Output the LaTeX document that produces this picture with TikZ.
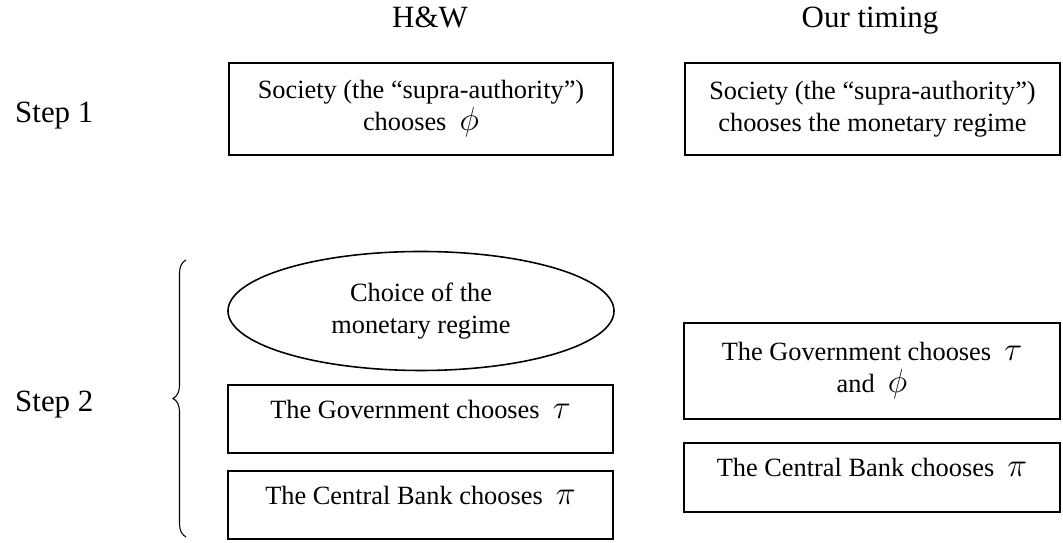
\documentclass[tikz,border=0pt]{standalone}
\usepackage{fontspec}
\usepackage{fix-cm}
\setmainfont{Liberation Serif}
\usetikzlibrary{shapes.geometric,decorations.pathreplacing}
\newcommand{\bigsym}[1]{{\fontsize{19}{19}\selectfont$#1$}}

\begin{document}
\begin{tikzpicture}[
    stagebox/.style={draw, line width=0.9pt, align=center, inner sep=2pt, font=\fontsize{15}{18.2}\selectfont},
    lowtext/.style={text height=11pt, text depth=12pt},
    colhead/.style={anchor=base, font=\fontsize{17.6}{21}\selectfont},
    steplabel/.style={anchor=base west, font=\fontsize{17.6}{21}\selectfont}]
    \useasboundingbox (0,0) rectangle (21.26,10.86);

    % Headings
    \node[colhead] (hw) at (8.60,10.30) {H\&W};
    \node[colhead] (ours) at (17.40,10.30) {Our timing};
    \node[steplabel] (step1) at (0.18,8.40) {Step 1};
    \node[steplabel] (step2) at (0.18,2.62) {Step 2};

    % Step 1
    \node[stagebox, minimum width=7.68cm, minimum height=1.84cm] (hwSoc) at (8.42,8.68) {Society (the ``supra-authority'')\\ chooses\enspace\bigsym{\phi}};
    \node[stagebox, minimum width=7.50cm, minimum height=1.84cm] (oursSoc) at (17.45,8.68) {Society (the ``supra-authority'')\\ chooses the monetary regime};

    % Step 2, H&W
    \node[stagebox, ellipse, inner sep=0pt, minimum width=7.72cm, minimum height=2.38cm] (hwRegime) at (8.42,4.64) {Choice of the\\ monetary regime};
    \node[stagebox, lowtext, minimum width=7.70cm, minimum height=1.36cm] (hwGov) at (8.41,2.48) {The Government chooses\enspace\bigsym{\tau}};
    \node[stagebox, lowtext, minimum width=7.70cm, minimum height=1.36cm] (hwCB) at (8.41,0.76) {The Central Bank chooses\enspace\bigsym{\pi}};

    % Step 2, our timing
    \node[stagebox, minimum width=7.52cm, minimum height=1.92cm] (oursGov) at (17.44,3.44) {The Government chooses\enspace\bigsym{\tau}\\ and\enspace\bigsym{\phi}};
    \node[stagebox, lowtext, minimum width=7.52cm, minimum height=1.38cm] (oursCB) at (17.44,1.31) {The Central Bank chooses\enspace\bigsym{\pi}};

    % Brace
    \coordinate (braceBot) at (3.72,0.12);
    \coordinate (braceTop) at (3.72,5.66);
    \draw[line width=0.6pt, decorate, decoration={brace, amplitude=0.26cm}] (braceBot) -- (braceTop);
\end{tikzpicture}
\end{document}
